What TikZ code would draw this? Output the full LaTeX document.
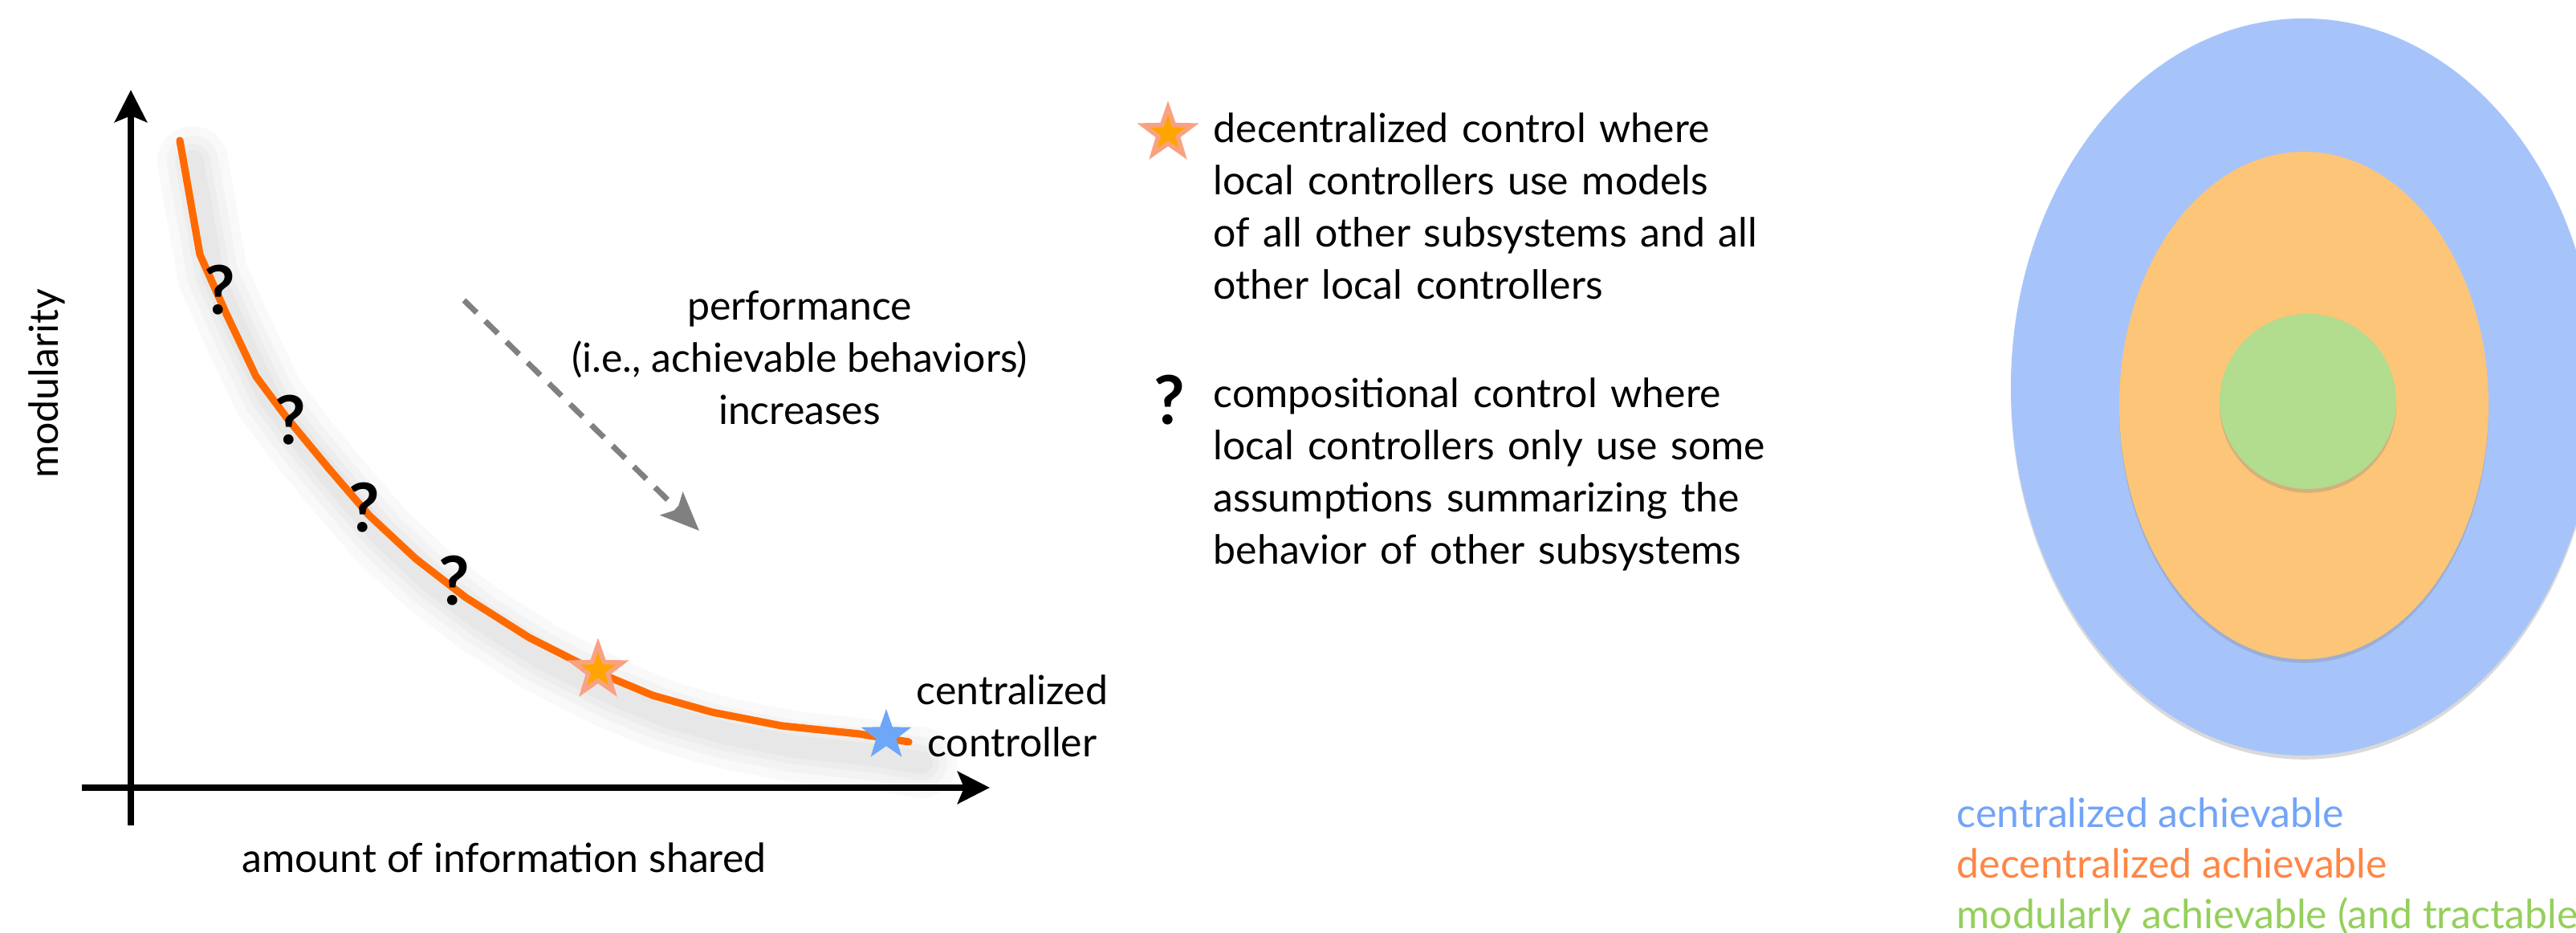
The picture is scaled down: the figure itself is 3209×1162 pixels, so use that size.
\documentclass[tikz,border=0pt]{standalone}
\usepackage{fontspec}
\setmainfont{Lato}
\usetikzlibrary{arrows.meta,shapes.geometric,shadows}
\definecolor{curveor}{HTML}{FF6A00}
\definecolor{starfill}{HTML}{FFA500}
\definecolor{staredge}{HTML}{F8A282}
\definecolor{starblue}{HTML}{6EA6F8}
\definecolor{arrgray}{HTML}{808080}
\definecolor{ellblue}{HTML}{A7C4FA}
\definecolor{ellorange}{HTML}{FCC578}
\definecolor{ellgreen}{HTML}{B2DC8E}
\definecolor{txtblue}{HTML}{72A4F8}
\definecolor{txtorange}{HTML}{FF8646}
\definecolor{txtgreen}{HTML}{95CF5C}
\begin{document}
\begin{tikzpicture}[x=0.25pt,y=-0.25pt,
  txt/.style={font=\fontsize{12.5pt}{16.25pt}\selectfont, inner sep=0pt},
  axisline/.style={line width=2pt, -{Stealth[length=10pt,width=10pt,inset=2pt]}},
  curveline/.style={draw=curveor, line width=2.3pt, line join=round, line cap=round},
  glowline/.style={draw=black, line join=round, line cap=round},
  qmark/.style={font=\fontsize{21pt}{21pt}\selectfont\bfseries, inner sep=0pt},
  starshape/.style={star, star points=5, star point ratio=2.5, inner sep=0pt},
  perfarrow/.style={draw=arrgray, line width=1.75pt, dash pattern=on 5.5pt off 3.75pt,
     -{Stealth[length=12pt,width=10pt,inset=2.5pt]}},
  ellshadow/.style={drop shadow={shadow xshift=0pt, shadow yshift=-1.2pt, opacity=0.3}}
]
\useasboundingbox (0,0) rectangle (3209,1162);
\clip (0,0) rectangle (3209,1162);

% ---------- left chart ----------
\def\curvepath{(224,175) -- (249,317) -- (282,391) -- (319,469) -- (357,520) -- (410,584) -- (460,642) -- (518,696) -- (580,744) -- (659,794) -- (746,838) -- (813,866) -- (887,887) -- (974,904) -- (1070,914) -- (1132,924)}
\begin{scope}[shift={(16,26)}]
  \foreach \w in {22pt,16pt,11pt,7pt}
    \draw[glowline, line width=\w, opacity=0.022] \curvepath;
\end{scope}

\coordinate (xs) at (102,981);
\coordinate (xe) at (1233,981);
\coordinate (ys) at (163,1028);
\coordinate (ye) at (163,112);
\draw[axisline] (xs) -- (xe);
\draw[axisline] (ys) -- (ye);

\draw[curveline] \curvepath;

\node[qmark] (q1) at (274,361) {?};
\node[qmark] (q2) at (362,523) {?};
\node[qmark] (q3) at (454,632) {?};
\node[qmark] (q4) at (566,723) {?};

\node[starshape, minimum size=16pt, fill=starfill, draw=staredge, line width=1.4pt] (sdec) at (745,835) {};
\node[starshape, minimum size=16.5pt, fill=starblue] (scen) at (1104,916) {};

\node[txt, align=center] (cc) at (1261,892) {centralized\\controller};

\coordinate (pa) at (578,374);
\coordinate (pb) at (871,661);
\draw[perfarrow] (pa) -- (pb);

\node[txt, align=center] (perf) at (996,446) {performance\\(i.e., achievable behaviors)\\increases};

\node[txt, rotate=90] (ylab) at (58,478) {modularity};
\node[txt] (xlab) at (628,1068) {amount of information shared};

% ---------- middle legend ----------
\node[starshape, minimum size=16pt, fill=starfill, draw=staredge, line width=1.4pt] (lstar) at (1455,166) {};
\node[txt, anchor=base west, text width=220pt, align=left] (ldec) at (1511,178)
  {decentralized control where\\local controllers use models\\of all other subsystems and all\\other local controllers};
\node[qmark] (lq) at (1457,498) {?};
\node[txt, anchor=base west, text width=220pt, align=left] (lcomp) at (1511,508)
  {compositional control where\\local controllers only use some\\assumptions summarizing the\\behavior of other subsystems};

% ---------- right ellipses ----------
\fill[ellblue, ellshadow] (2870,482) ellipse [x radius=365, y radius=459];
\fill[ellorange, ellshadow] (2870,505) ellipse [x radius=230, y radius=316];
\fill[ellgreen, ellshadow] (2875,500) ellipse [x radius=110, y radius=109];

\node[txt, anchor=base west, text=txtblue] (rc) at (2437,1031) {centralized achievable};
\node[txt, anchor=base west, text=txtorange] (rd) at (2437,1094) {decentralized achievable};
\node[txt, anchor=base west, text=txtgreen] (rm) at (2437,1157) {modularly achievable (and tractable)};
\end{tikzpicture}
\end{document}
